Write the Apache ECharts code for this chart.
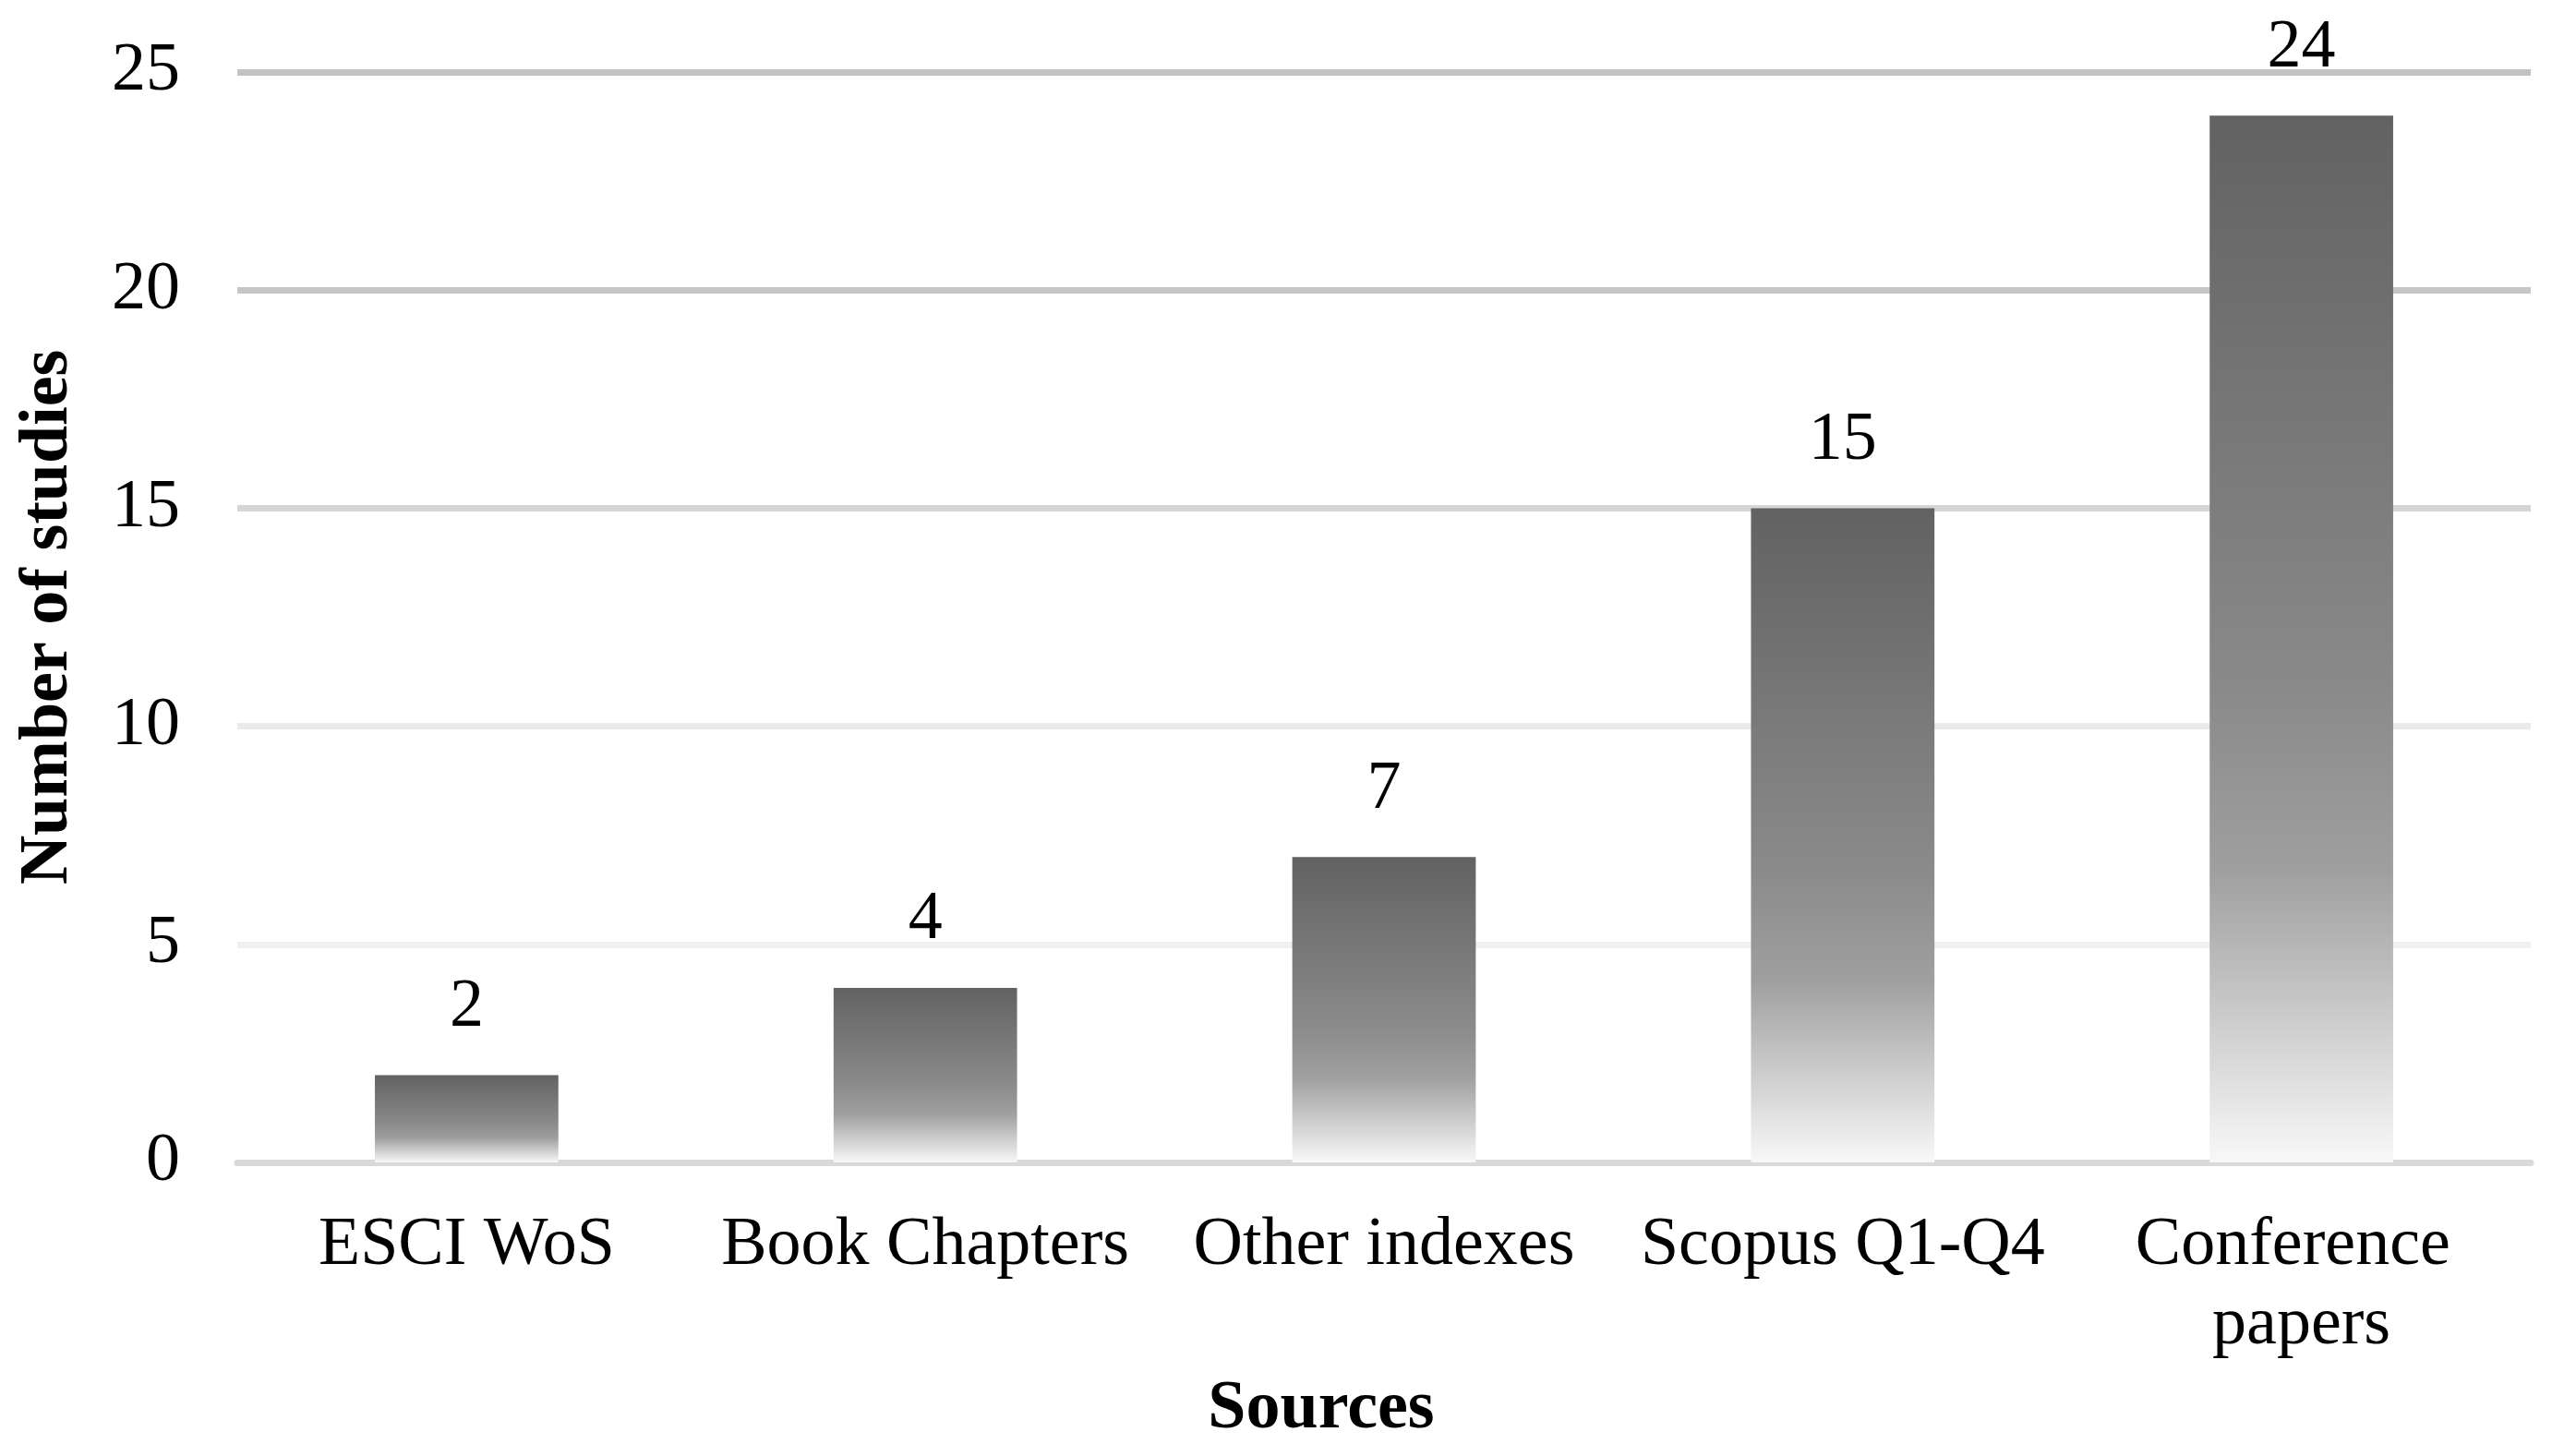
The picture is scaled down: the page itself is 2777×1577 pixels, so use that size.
<!DOCTYPE html>
<html>
<head>
<meta charset="utf-8">
<script src="https://cdn.jsdelivr.net/npm/echarts@6/dist/echarts.min.js"></script>
<style>
html,body{margin:0;padding:0;background:#fff;}
#chart{width:2777px;height:1577px;}
</style>
</head>
<body>
<div id="chart"></div>
<script>
const categories = ['ESCI WoS', 'Book Chapters', 'Other indexes', 'Scopus Q1-Q4', 'Conference papers'];
const studies = [2, 4, 7, 15, 24];
const yTicks = [0, 5, 10, 15, 20, 25];
const gridColors = ['#d9d9d9', '#f0f0f0', '#eaeaea', '#d6d6d6', '#c6c6c6', '#c2c2c2'];

const FONT = '"Liberation Serif", "Times New Roman", serif';
const chart = echarts.init(document.getElementById('chart'));
chart.setOption({
  backgroundColor: '#ffffff',
  animation: false,
  grid: { left: 257, right: 36, top: 78, bottom: 318, containLabel: false },
  xAxis: {
    type: 'category',
    data: categories,
    name: 'Sources',
    nameLocation: 'middle',
    nameGap: 231,
    nameTextStyle: { fontFamily: FONT, fontSize: 74, fontWeight: 'bold', color: '#000', padding: [0, 136, 0, 0] },
    axisLine: { show: true, lineStyle: { color: '#d9d9d9', width: 7 } },
    axisTick: { show: false },
    axisLabel: {
      interval: 0, margin: 48, fontFamily: FONT, fontSize: 74, lineHeight: 86, color: '#000',
      width: 480, overflow: 'break'
    },
    splitLine: { show: false }
  },
  yAxis: {
    type: 'value',
    min: yTicks[0],
    max: yTicks[yTicks.length - 1],
    interval: 5,
    name: 'Number of studies',
    nameLocation: 'middle',
    nameGap: 167,
    nameRotate: 90,
    nameTextStyle: { fontFamily: FONT, fontSize: 74, fontWeight: 'bold', color: '#000' },
    axisLine: { show: false },
    axisTick: { show: false },
    axisLabel: { margin: 62, fontFamily: FONT, fontSize: 74, color: '#000' },
    splitLine: { show: true, lineStyle: { color: gridColors, width: 7 } }
  },
  series: [{
    type: 'bar',
    data: studies,
    barWidth: '40%',
    itemStyle: {
      color: new echarts.graphic.LinearGradient(0, 0, 0, 1, [
        { offset: 0, color: '#626262' },
        { offset: 0.55, color: '#8a8a8a' },
        { offset: 0.72, color: '#9f9f9f' },
        { offset: 0.8, color: '#b8b8b8' },
        { offset: 0.9, color: '#d8d8d8' },
        { offset: 1, color: '#f8f8f8' }
      ])
    },
    label: {
      show: true, position: 'top', distance: 36,
      fontFamily: FONT, fontSize: 74, color: '#000'
    }
  }]
});
</script>
</body>
</html>
